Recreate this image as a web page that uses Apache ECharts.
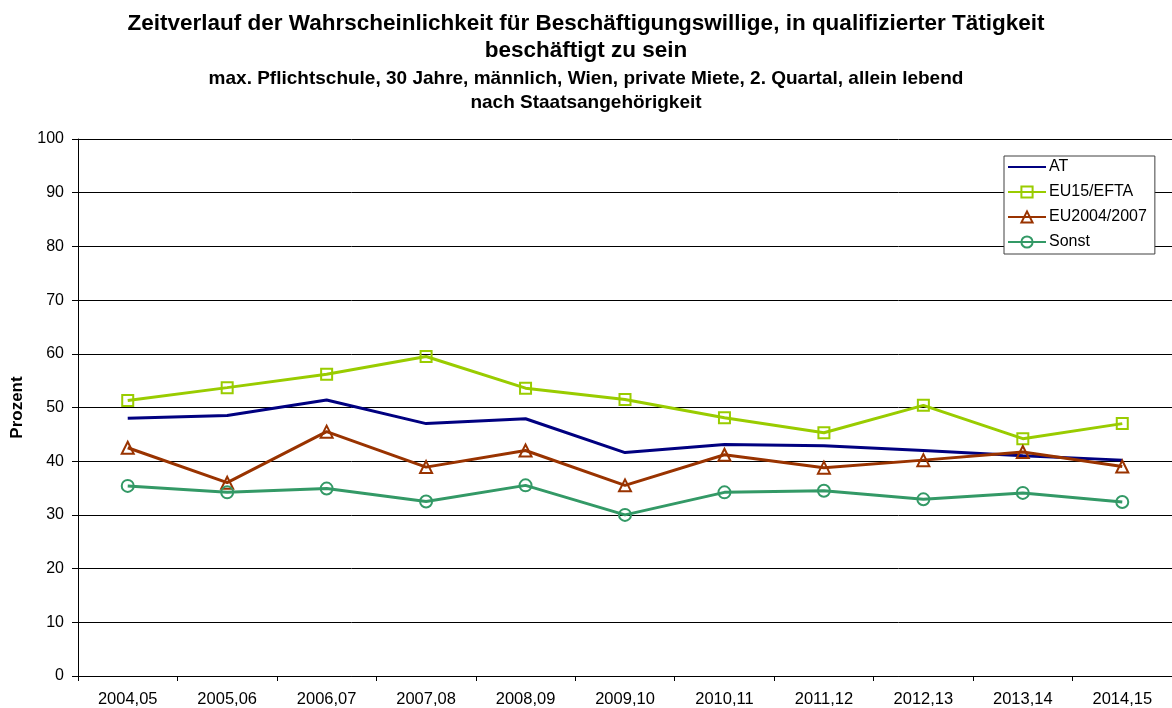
<!DOCTYPE html>
<html><head><meta charset="utf-8">
<script src="https://cdn.jsdelivr.net/npm/echarts@6/dist/echarts.min.js"></script>
<style>html,body{margin:0;padding:0;background:#fff}#c{width:1172px;height:708px}</style>
</head><body><div id="c"></div>
<script>
const categories = ['2004,05','2005,06','2006,07','2007,08','2008,09','2009,10','2010,11','2011,12','2012,13','2013,14','2014,15'];
const atValues = [48.0, 48.5, 51.4, 47.0, 47.9, 41.6, 43.1, 42.9, 42.0, 41.0, 40.2];
const eu15Values = [51.3, 53.7, 56.2, 59.5, 53.6, 51.5, 48.1, 45.3, 50.4, 44.2, 47.0];
const eu2004Values = [42.5, 36.0, 45.5, 38.9, 42.0, 35.5, 41.2, 38.8, 40.2, 41.7, 39.0];
const sonstValues = [35.4, 34.2, 34.9, 32.5, 35.5, 30.0, 34.2, 34.5, 32.9, 34.1, 32.4];
const titleLines = ['Zeitverlauf der Wahrscheinlichkeit für Beschäftigungswillige, in qualifizierter Tätigkeit', 'beschäftigt zu sein'];
const subtitleLines = ['max. Pflichtschule, 30 Jahre, männlich, Wien, private Miete, 2. Quartal, allein lebend', 'nach Staatsangehörigkeit'];

const font = '"Liberation Sans", Arial, sans-serif';
const chart = echarts.init(document.getElementById('c'));
function mk(name, data, color, symbol, size) {
  return {
    name, type: 'line', data,
    symbol: symbol || 'none', symbolSize: size || 10, showSymbol: !!symbol,
    lineStyle: { color, width: 3 },
    itemStyle: { color: 'rgba(0,0,0,0)', borderColor: color, borderWidth: symbol ? 2 : 0 },
    emphasis: { disabled: true }, animation: false, z: 3
  };
}
chart.setOption({
  animation: false,
  backgroundColor: '#fff',
  title: [
    { text: titleLines.join('\n'), left: 'center', top: 11, padding: [0, 13, 0, 5],
      textStyle: { fontFamily: font, fontSize: 22.5, fontWeight: 'bold', color: '#000', lineHeight: 26.5 } },
    { text: subtitleLines.join('\n'), left: 'center', top: 67, padding: [0, 13, 0, 5],
      textStyle: { fontFamily: font, fontSize: 19, fontWeight: 'bold', color: '#000', lineHeight: 24 } }
  ],
  legend: {
    orient: 'vertical', left: 1004, top: 156,
    padding: [3, 8, 4, 3], itemGap: 9, itemWidth: 38, itemHeight: 14,
    borderColor: '#404040', borderWidth: 1, backgroundColor: '#fff',
    textStyle: { fontFamily: font, fontSize: 16, lineHeight: 16, color: '#000', padding: [0, 0, 0, -2] },
    data: ['AT', 'EU15/EFTA', 'EU2004/2007', 'Sonst']
  },
  grid: { left: 78, right: -4, top: 139, bottom: 32 },
  xAxis: {
    type: 'category', data: categories, boundaryGap: true,
    axisLine: { lineStyle: { color: '#000', width: 1 } },
    axisTick: { show: true, length: 5, lineStyle: { color: '#000' } },
    axisLabel: { fontFamily: font, fontSize: 16.5, color: '#000', margin: 15, interval: 0 }
  },
  yAxis: {
    type: 'value', min: 0, max: 100, interval: 10,
    name: 'Prozent', nameLocation: 'middle', nameGap: 52,
    nameTextStyle: { fontFamily: font, fontSize: 17, fontWeight: 'bold', color: '#000' },
    axisLine: { show: true, lineStyle: { color: '#000', width: 1 } },
    axisTick: { show: true, length: 6, lineStyle: { color: '#000' } },
    axisLabel: { fontFamily: font, fontSize: 16, color: '#000', margin: 14 },
    splitLine: { lineStyle: { color: '#000', width: 1 } }
  },
  series: [
    mk('AT', atValues, '#000080', null),
    mk('EU15/EFTA', eu15Values, '#99CC00', 'rect', 11),
    mk('EU2004/2007', eu2004Values, '#993300', 'triangle', 12),
    mk('Sonst', sonstValues, '#339966', 'circle', 12)
  ]
});
</script></body></html>
